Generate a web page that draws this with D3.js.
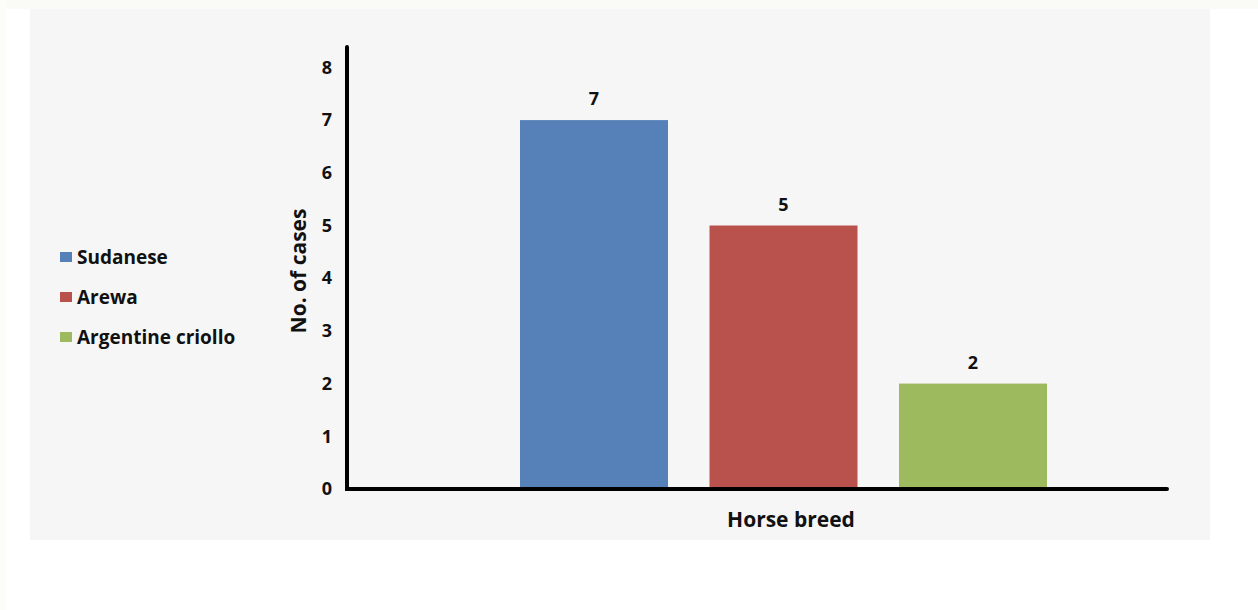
<!DOCTYPE html>
<html>
<head>
<meta charset="utf-8">
<script src="https://cdn.jsdelivr.net/npm/d3@7"></script>
<style>
  html, body { margin: 0; padding: 0; background: #ffffff; }
  svg { display: block; }
  text { font-family: "Open Sans", "Lato", sans-serif; font-weight: 700; fill: #111; }
</style>
</head>
<body>
<svg id="chart" width="1258" height="610"></svg>
<script>
// Cases by horse breed
const breeds = ["Sudanese", "Arewa", "Argentine criollo"];
const cases = [7, 5, 2];
const colors = ["#5580b8", "#b9514c", "#9dba5e"];
const yTicks = [0, 1, 2, 3, 4, 5, 6, 7, 8];
const xTitle = "Horse breed";
const yTitle = "No. of cases";

const svg = d3.select("#chart");

// page backdrop
svg.append("rect").attr("x", 0).attr("y", 0).attr("width", 1258).attr("height", 9).attr("fill", "#fafaf6");
svg.append("rect").attr("x", 0).attr("y", 0).attr("width", 6).attr("height", 610).attr("fill", "#fcfcf9");
svg.append("rect").attr("x", 30).attr("y", 9).attr("width", 1180).attr("height", 531).attr("fill", "#f6f6f6");

const axisX = 347, axisY = 489, axisRight = 1167, axisTop = 47;

const y = d3.scaleLinear().domain([0, 8]).range([axisY, 67.4]);
const x = d3.scaleBand().domain(breeds).range([499.25, 1067.75]).paddingInner(0.219).paddingOuter(0.1095);

// bars
svg.append("g").selectAll("rect").data(breeds).join("rect")
  .attr("x", d => x(d))
  .attr("y", (d, i) => y(cases[i]))
  .attr("width", x.bandwidth())
  .attr("height", (d, i) => y(0) - y(cases[i]))
  .attr("fill", (d, i) => colors[i]);

// value labels
svg.append("g").selectAll("text").data(breeds).join("text")
  .attr("x", d => x(d) + x.bandwidth() / 2)
  .attr("y", (d, i) => y(cases[i]) - 15)
  .attr("text-anchor", "middle")
  .attr("font-size", 18)
  .text((d, i) => cases[i]);

// y axis (labels only, bold line drawn separately)
const yAxis = d3.axisLeft(y).tickValues(yTicks).tickSize(0).tickPadding(15).tickFormat(d3.format("d"));
const gy = svg.append("g").attr("transform", `translate(${axisX},0)`).call(yAxis);
gy.select(".domain").remove();
gy.selectAll("text").attr("font-size", 18).attr("font-family", null).attr("fill", "#111");

// axis lines
svg.append("path")
  .attr("d", `M${axisX},${axisTop}V${axisY}H${axisRight}`)
  .attr("fill", "none").attr("stroke", "#000").attr("stroke-width", 4)
  .attr("stroke-linecap", "round").attr("stroke-linejoin", "miter");

// axis titles
svg.append("text")
  .attr("x", 791).attr("y", 527)
  .attr("text-anchor", "middle").attr("font-size", 21)
  .text(xTitle);
svg.append("text")
  .attr("transform", `translate(306,271) rotate(-90)`)
  .attr("text-anchor", "middle").attr("font-size", 21)
  .text(yTitle);

// legend
const legend = svg.append("g").selectAll("g").data(breeds).join("g")
  .attr("transform", (d, i) => `translate(60,${257 + i * 40})`);
legend.append("rect").attr("x", 0).attr("y", -5).attr("width", 12).attr("height", 10)
  .attr("fill", (d, i) => colors[i]);
legend.append("text").attr("x", 17).attr("y", 6.5).attr("font-size", 19).text(d => d);
</script>
</body>
</html>
